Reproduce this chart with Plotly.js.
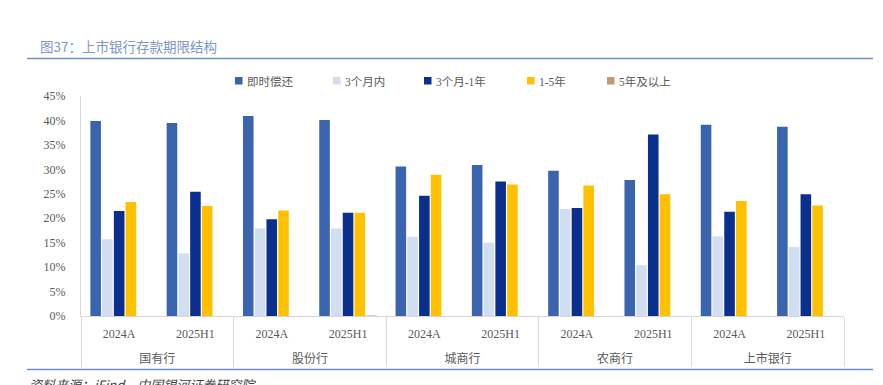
<!DOCTYPE html>
<html>
<head>
<meta charset="utf-8">
<script src="https://cdn.plot.ly/plotly-3.0.1.min.js"></script>
<style>
html,body{margin:0;padding:0;background:#fff;}
#chart{width:883px;height:385px;}
</style>
</head>
<body>
<div id="chart"></div>
<script>
// ---- data ----
var groups = ["国有行","国有行","股份行","股份行","城商行","城商行","农商行","农商行","上市银行","上市银行"];
var periods = ["2024A","2025H1","2024A","2025H1","2024A","2025H1","2024A","2025H1","2024A","2025H1"];
var seriesNames = ["即时偿还","3个月内","3个月-1年","1-5年","5年及以上"];
var demand     = [39.9, 39.5, 40.9, 40.1, 30.6, 30.9, 29.7, 27.8, 39.1, 38.7];
var within3m   = [15.7, 12.8, 17.9, 17.9, 16.2, 15.0, 21.9, 10.4, 16.3, 14.1];
var m3to1y     = [21.5, 25.4, 19.8, 21.1, 24.6, 27.5, 22.1, 37.1, 21.3, 24.9];
var y1to5      = [23.3, 22.5, 21.6, 21.1, 28.9, 26.9, 26.7, 24.9, 23.5, 22.6];
var over5y     = [0, 0, 0, 0.1, 0, 0, 0, 0, 0, 0];
var seriesValues = [demand, within3m, m3to1y, y1to5, over5y];
var colors = ["#3A64AE","#D1DEF1","#0B2F8C","#FFC000","#BF9C6B"];
var titleText = "图37：上市银行存款期限结构";
var sourceText = "资料来源：iFind，中国银河证券研究院";

// ---- geometry helpers (pixel -> paper) ----
var W = 883, H = 385, L = 81, R = 39, T = 96, B = 69;
var PW = W - L - R, PH = H - T - B;
function px(x){ return (x - L) / PW; }
function py(y){ return (H - B - y) / PH; }

// group labels sit one (empty) line lower, as in the reference
var groupLabels = groups.map(function(g){ return "<br>" + g; });

var traces = seriesNames.map(function(n, i){
  return {
    type: "bar",
    name: n,
    x: [groupLabels, periods],
    y: seriesValues[i],
    marker: {color: colors[i]},
    hoverinfo: "y+name"
  };
});

var shapes = [
  {type:"line", xref:"paper", yref:"paper", x0:px(27), x1:px(873), y0:py(58.5), y1:py(58.5), line:{color:"#6F8FCB", width:1.5}},
  {type:"line", xref:"paper", yref:"paper", x0:px(27), x1:px(873), y0:py(369.5), y1:py(369.5), line:{color:"#6F8FCB", width:1.5}}
];
var annotations = [
  {xref:"paper", yref:"paper", x:px(38), y:py(46), xanchor:"left", yanchor:"middle", showarrow:false,
   text:titleText, font:{family:"Noto Sans CJK SC", size:13.5, color:"#7F96C7"}},
  {xref:"paper", yref:"paper", x:px(27), y:py(384), xanchor:"left", yanchor:"middle", showarrow:false,
   text:"<i>"+sourceText+"</i>", font:{family:"Noto Sans CJK SC", size:13, color:"#404040"}}
];
var legendX = [235, 333, 424, 527, 607];
seriesNames.forEach(function(n, i){
  shapes.push({type:"rect", xref:"paper", yref:"paper", x0:px(legendX[i]), x1:px(legendX[i]+7.5),
    y0:py(84.5), y1:py(77), fillcolor:colors[i], line:{width:0}});
  annotations.push({xref:"paper", yref:"paper", x:px(legendX[i]+10), y:py(81), xanchor:"left", yanchor:"middle",
    showarrow:false, text:n, font:{family:"Liberation Serif, Noto Sans CJK SC", size:11.5, color:"#595959"}});
});

var layout = {
  width: W, height: H,
  margin: {l:L, r:R, t:T, b:B, pad:0},
  paper_bgcolor: "#fff", plot_bgcolor: "#fff",
  showlegend: false,
  barmode: "group",
  bargap: 0.23,
  bargroupgap: 0.1,
  font: {family:"Liberation Serif, Noto Sans CJK SC", color:"#595959", size:12},
  xaxis: {
    type: "multicategory",
    showline: true, linecolor:"#D9D9D9", linewidth:1,
    showgrid: false, ticks: "",
    ticklabelstandoff: 7,
    showdividers: true, dividercolor:"#D9D9D9", dividerwidth:1,
    tickfont: {family:"Liberation Serif, Noto Sans CJK SC", size:12, color:"#595959"},
    fixedrange: true
  },
  yaxis: {
    range: [0, 45], dtick: 5, tick0: 0,
    ticksuffix: "%",
    showline: true, linecolor:"#D9D9D9", linewidth:1,
    showgrid: false, zeroline: false, ticks: "",
    ticklabelstandoff: 12,
    tickfont: {family:"Liberation Serif", size:12, color:"#595959"},
    fixedrange: true
  },
  shapes: shapes,
  annotations: annotations
};

Plotly.newPlot("chart", traces, layout, {displayModeBar:false, staticPlot:true});
</script>
</body>
</html>
